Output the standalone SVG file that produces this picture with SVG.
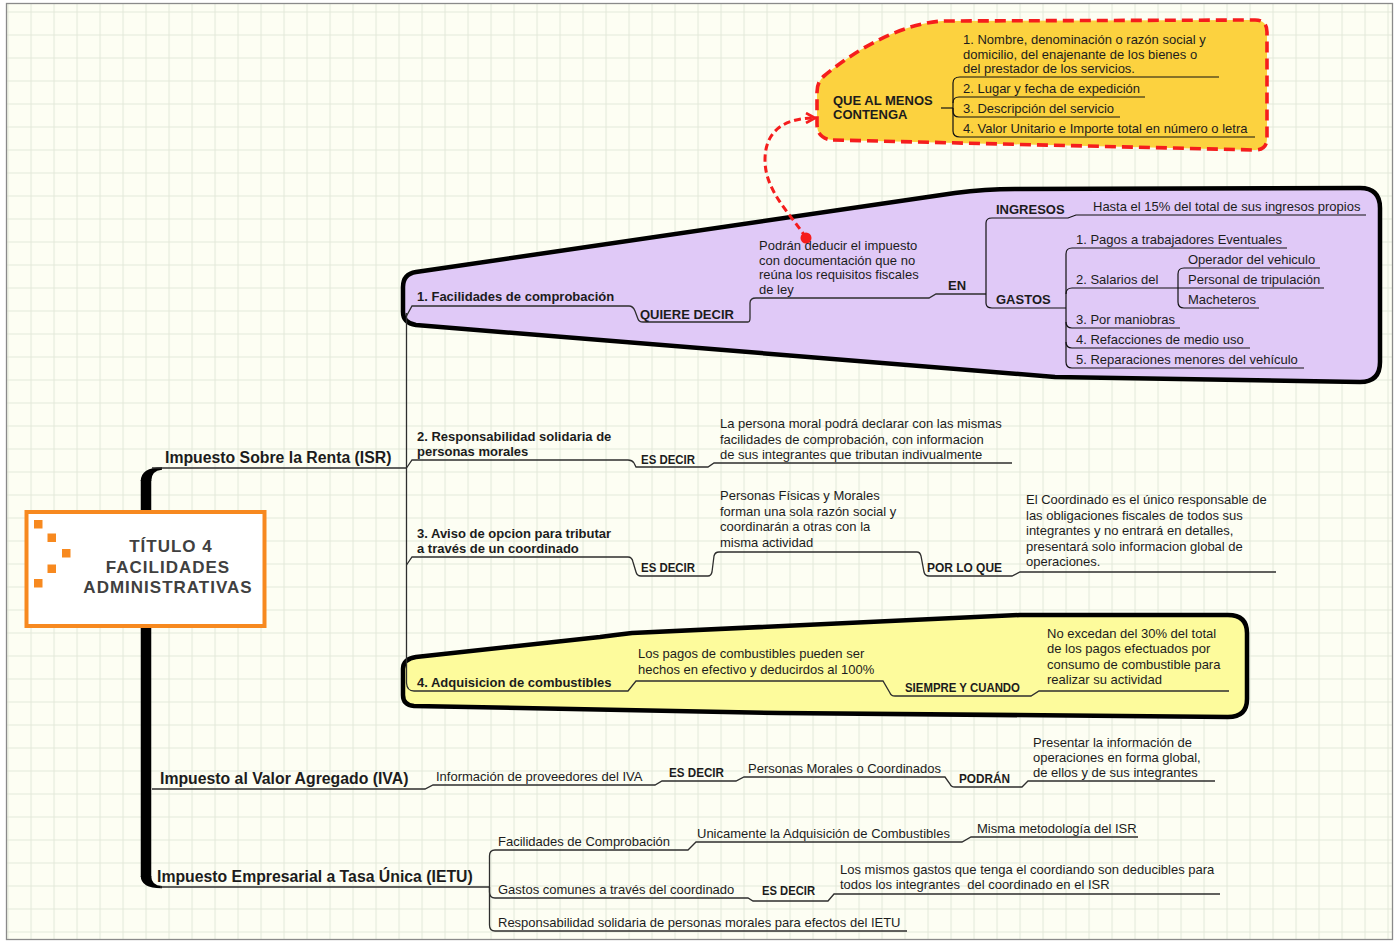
<svg xmlns="http://www.w3.org/2000/svg" width="1397" height="943" viewBox="0 0 1397 943">
<defs>
<pattern id="grid" x="7.5" y="11.5" width="23" height="23" patternUnits="userSpaceOnUse">
<path d="M0,0.5 H23 M0.5,0 V23" stroke="#E3E9DA" stroke-width="1.2" fill="none"/>
</pattern>
<marker id="arr" viewBox="0 0 12 12" refX="10" refY="6" markerWidth="12" markerHeight="12" markerUnits="userSpaceOnUse" orient="auto">
<path d="M1,1 L10,6 L1,11" fill="none" stroke="#F51D1D" stroke-width="2.6"/>
</marker>
<style>
.t{font-family:'Liberation Sans',Arial,sans-serif;fill:#1c1c1c;white-space:pre}
.r{font-size:13px}
.b{font-size:13px;font-weight:bold}
.bs{font-size:13px;font-weight:bold}
.big{font-size:15.8px;font-weight:bold}
.ttl{font-size:17px;font-weight:bold;fill:#404040;letter-spacing:1px}
.ln{fill:none;stroke:#2e2e2e;stroke-width:1.3}
.lk{fill:none;stroke:#111;stroke-width:1.2}
.sq{fill:#F7891F}
</style>
</defs>
<rect width="1397" height="943" fill="#ffffff"/>
<rect x="6.5" y="3.5" width="1386" height="936" fill="#FDFEF3"/>
<rect x="6.5" y="3.5" width="1386" height="936" fill="url(#grid)" stroke="#8a8a8a" stroke-width="1.3"/>

<g id="purple-area">
<path d="M416,272 L955,193 Q985,189 1015,189 L1360,188 Q1380,188 1380,208 L1380,362 Q1380,382 1360,382 L1055,377 L416,325 Q403,323 403,312 L403,287 Q403,274 416,272 Z" fill="#E0C9F7" stroke="#000" stroke-width="4.5" stroke-linejoin="round"/>
</g>
<g id="yellow-area">
<path d="M416,657 L600,637 Q615,635 632,633 L1020,615 L1228,615 Q1247,615 1247,633 L1247,699 Q1247,717 1228,717 L780,713 L414,706 Q403,705 403,695 L403,669 Q403,659 416,657 Z" fill="#FDFB9C" stroke="#000" stroke-width="4.5" stroke-linejoin="round"/>
</g>
<g id="orange-area">
<path d="M833,140 L1255,150 Q1267,150 1267,138 L1267,32 Q1267,20 1255,20 L943,21 C905,23 860,46 824,76 Q817,82 817,92 L817,124 Q817,139 833,140 Z" fill="#FCD23F" stroke="#F51D1D" stroke-width="3.6" stroke-dasharray="11 6"/>
</g>

<g id="connectors">
<path d="M146,480 V877" fill="none" stroke="#000" stroke-width="10.5"/>
<path d="M140.75,481 Q141,467.5 162,467.3 L162,469.7 Q151.25,470.5 151.25,481 Z" fill="#000"/>
<path d="M140.75,876 Q141,888.5 162,888.3 L162,886 Q151.25,885.5 151.25,876 Z" fill="#000"/>
<path class="ln" d="M152,468 H406.5"/>
<path class="ln" d="M406.5,313 V683 Q407,691 414,691"/>
<path class="ln" d="M406.5,316 L412,306 H629 Q633,306 635,311 L638,319 Q639,322 643,322 H748 Q750,322 750,318 V303 Q750,298 756,298 H929 L936,294 H986"/>
<path class="lk" d="M986,294 V223 Q986,218 992,218 H1068 L1076,215 H1366"/>
<path class="lk" d="M986,294 V303 Q986,308 992,308 H1066"/>
<path class="lk" d="M1066,308 V254 Q1066,248 1072,248 H1287"/>
<path class="lk" d="M1066,294 Q1066,288 1072,288 H1178"/>
<path class="lk" d="M1066,308 V362 Q1066,368 1072,368 H1304"/>
<path class="lk" d="M1066,322 Q1066,328 1072,328 H1180"/>
<path class="lk" d="M1066,342 Q1066,348 1072,348 H1250"/>
<path class="lk" d="M1178,288 V274 Q1178,268 1184,268 H1320"/>
<path class="lk" d="M1178,288 H1324"/>
<path class="lk" d="M1178,288 V302 Q1178,308 1184,308 H1259"/>
<path class="lk" d="M941,108 H953"/>
<path class="lk" d="M953,108 V83 Q953,77 960,77 H1219"/>
<path class="lk" d="M953,103 Q953,97 959,97 H1145"/>
<path class="lk" d="M953,108 V111 Q953,117 959,117 H1120"/>
<path class="lk" d="M953,108 V131 Q953,137 960,137 H1255"/>
<path d="M806,238 C792,215 765,192 765,160 C765,128 788,118 815,118" fill="none" stroke="#F51D1D" stroke-width="3" stroke-dasharray="7 4" marker-end="url(#arr)"/>
<circle cx="806" cy="238" r="5.5" fill="#F51D1D"/>
<path class="ln" d="M406.5,468 L412,460 H628 Q632,460 634,463 L636,467 H708 L714,463 H1012"/>
<path class="ln" d="M406.5,565 L412,557 H628 Q632,557 633,562 L636,572 Q637,576 641,576 H708 Q711,576 712,572 L714,556 Q715,552 719,552 H917 Q920,552 921,556 L924,572 Q925,576 929,576 H1012 L1020,572 H1276"/>
<path class="ln" d="M414,691 H628 L636,681 H883 L890,693 Q891,696 895,696 H1031 L1039,691 H1229"/>
<path class="ln" d="M152,789 H425 L433,785 H655 L662,781 H736 L744,777 H945 L950,784 Q951,787 955,787 H1022 L1028,781 H1215"/>
<path class="ln" d="M160,887 H489.5"/>
<path class="ln" d="M489.5,887 V856 Q489.5,850 495,850 H688 L696,842 H962 L971,837 H1138"/>
<path class="ln" d="M489.5,887 V892 Q489.5,898 495,898 H748 L753,901 H828 L834,894 H1220"/>
<path class="ln" d="M489.5,887 V925 Q489.5,931 495,931 H907"/>
</g>

<g id="title">
<rect x="26.5" y="512" width="238" height="114" fill="#ffffff" stroke="#F7891F" stroke-width="4"/>
<rect class="sq" x="34" y="520" width="8.5" height="8.5"/>
<rect class="sq" x="47.5" y="533.5" width="8.5" height="8.5"/>
<rect class="sq" x="62" y="549" width="8.5" height="8.5"/>
<rect class="sq" x="47.5" y="564.5" width="8.5" height="8.5"/>
<rect class="sq" x="34" y="579" width="8.5" height="8.5"/>
<text class="t ttl" x="171" y="552" text-anchor="middle">TÍTULO 4</text>
<text class="t ttl" x="168" y="573" text-anchor="middle">FACILIDADES</text>
<text class="t ttl" x="168" y="593" text-anchor="middle">ADMINISTRATIVAS</text>
</g>

<g id="isr"><text class="t big" x="165" y="463">Impuesto Sobre la Renta (ISR)</text></g>
<g id="iva"><text class="t big" x="160" y="784">Impuesto al Valor Agregado (IVA)</text></g>
<g id="ietu"><text class="t big" x="157" y="882">Impuesto Empresarial a Tasa Única (IETU)</text></g>

<g id="b1-facilidades"><text class="t b" x="417" y="301">1. Facilidades de comprobación</text></g>
<g id="b1-quiere"><text class="t b" x="640" y="319">QUIERE DECIR</text></g>
<g id="b1-podran">
<text class="t r" x="759" y="250">Podrán deducir el impuesto</text>
<text class="t r" x="759" y="265">con documentación que no</text>
<text class="t r" x="759" y="279">reúna los requisitos fiscales</text>
<text class="t r" x="759" y="294">de ley</text>
</g>
<g id="b1-en"><text class="t b" x="948" y="290">EN</text></g>
<g id="b1-ingresos"><text class="t b" x="996" y="214">INGRESOS</text></g>
<g id="b1-hasta"><text class="t r" x="1093" y="211">Hasta el 15% del total de sus ingresos propios</text></g>
<g id="b1-gastos"><text class="t b" x="996" y="304">GASTOS</text></g>
<g id="g1"><text class="t r" x="1076" y="244">1. Pagos a trabajadores Eventuales</text></g>
<g id="g2"><text class="t r" x="1076" y="284">2. Salarios del</text></g>
<g id="g2a"><text class="t r" x="1188" y="264">Operador del vehiculo</text></g>
<g id="g2b"><text class="t r" x="1188" y="284">Personal de tripulación</text></g>
<g id="g2c"><text class="t r" x="1188" y="304">Macheteros</text></g>
<g id="g3"><text class="t r" x="1076" y="324">3. Por maniobras</text></g>
<g id="g4"><text class="t r" x="1076" y="344">4. Refacciones de medio uso</text></g>
<g id="g5"><text class="t r" x="1076" y="364">5. Reparaciones menores del vehículo</text></g>

<g id="que-al-menos">
<text class="t b" x="833" y="105">QUE AL MENOS</text>
<text class="t b" x="833" y="119">CONTENGA</text>
</g>
<g id="q1">
<text class="t r" x="963" y="44">1. Nombre, denominación o razón social y</text>
<text class="t r" x="963" y="59">domicilio, del enajenante de los bienes o</text>
<text class="t r" x="963" y="73">del prestador de los servicios.</text>
</g>
<g id="q2"><text class="t r" x="963" y="93">2. Lugar y fecha de expedición</text></g>
<g id="q3"><text class="t r" x="963" y="113">3. Descripción del servicio</text></g>
<g id="q4"><text class="t r" x="963" y="133">4. Valor Unitario e Importe total en número o letra</text></g>

<g id="b2-resp">
<text class="t b" x="417" y="441">2. Responsabilidad solidaria de</text>
<text class="t b" x="417" y="456">personas morales</text>
</g>
<g id="b2-es"><text class="t bs" x="641" y="464" textLength="54" lengthAdjust="spacingAndGlyphs">ES DECIR</text></g>
<g id="b2-desc">
<text class="t r" x="720" y="428">La persona moral podrá declarar con las mismas</text>
<text class="t r" x="720" y="444">facilidades de comprobación, con informacion</text>
<text class="t r" x="720" y="459">de sus integrantes que tributan indivualmente</text>
</g>

<g id="b3-aviso">
<text class="t b" x="417" y="538">3. Aviso de opcion para tributar</text>
<text class="t b" x="417" y="553">a través de un coordinado</text>
</g>
<g id="b3-es"><text class="t bs" x="641" y="572" textLength="54" lengthAdjust="spacingAndGlyphs">ES DECIR</text></g>
<g id="b3-porloque"><text class="t bs" x="927" y="572" textLength="75" lengthAdjust="spacingAndGlyphs">POR LO QUE</text></g>
<g id="b3-personas">
<text class="t r" x="720" y="500">Personas Físicas y Morales</text>
<text class="t r" x="720" y="516">forman una sola razón social y</text>
<text class="t r" x="720" y="531">coordinarán a otras con la</text>
<text class="t r" x="720" y="547">misma actividad</text>
</g>
<g id="b3-coord">
<text class="t r" x="1026" y="504">El Coordinado es el único responsable de</text>
<text class="t r" x="1026" y="520">las obligaciones fiscales de todos sus</text>
<text class="t r" x="1026" y="535">integrantes y no entrará en detalles,</text>
<text class="t r" x="1026" y="551">presentará solo informacion global de</text>
<text class="t r" x="1026" y="566">operaciones.</text>
</g>

<g id="b4-adq"><text class="t b" x="417" y="687">4. Adquisicion de combustibles</text></g>
<g id="b4-pagos">
<text class="t r" x="638" y="658">Los pagos de combustibles pueden ser</text>
<text class="t r" x="638" y="674">hechos en efectivo y deducirdos al 100%</text>
</g>
<g id="b4-siempre"><text class="t bs" x="905" y="692" textLength="115" lengthAdjust="spacingAndGlyphs">SIEMPRE Y CUANDO</text></g>
<g id="b4-no">
<text class="t r" x="1047" y="638">No excedan del 30% del total</text>
<text class="t r" x="1047" y="653">de los pagos efectuados por</text>
<text class="t r" x="1047" y="669">consumo de combustible para</text>
<text class="t r" x="1047" y="684">realizar su actividad</text>
</g>

<g id="iva-info"><text class="t r" x="436" y="781">Información de proveedores del IVA</text></g>
<g id="iva-es"><text class="t bs" x="669" y="777" textLength="55" lengthAdjust="spacingAndGlyphs">ES DECIR</text></g>
<g id="iva-personas"><text class="t r" x="748" y="773">Personas Morales o Coordinados</text></g>
<g id="iva-podran"><text class="t bs" x="959" y="783" textLength="51" lengthAdjust="spacingAndGlyphs">PODRÁN</text></g>
<g id="iva-presentar">
<text class="t r" x="1033" y="747">Presentar la información de</text>
<text class="t r" x="1033" y="762">operaciones en forma global,</text>
<text class="t r" x="1033" y="777">de ellos y de sus integrantes</text>
</g>

<g id="ietu-fac"><text class="t r" x="498" y="846">Facilidades de Comprobación</text></g>
<g id="ietu-unic"><text class="t r" x="697" y="838">Unicamente la Adquisición de Combustibles</text></g>
<g id="ietu-misma"><text class="t r" x="977" y="833">Misma metodología del ISR</text></g>
<g id="ietu-gastos"><text class="t r" x="498" y="894">Gastos comunes a través del coordinado</text></g>
<g id="ietu-es"><text class="t bs" x="762" y="895" textLength="53" lengthAdjust="spacingAndGlyphs">ES DECIR</text></g>
<g id="ietu-mismos">
<text class="t r" x="840" y="874">Los mismos gastos que tenga el coordiando son deducibles para</text>
<text class="t r" x="840" y="889">todos los integrantes  del coordinado en el ISR</text>
</g>
<g id="ietu-resp"><text class="t r" x="498" y="927">Responsabilidad solidaria de personas morales para efectos del IETU</text></g>
</svg>
